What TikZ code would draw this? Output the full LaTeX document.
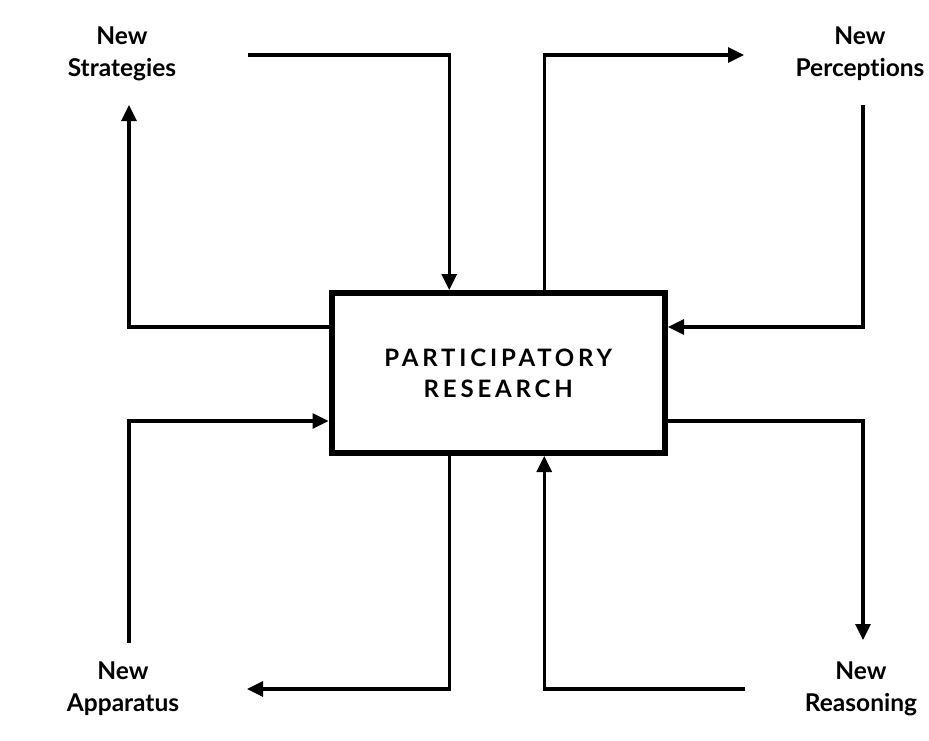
\documentclass[tikz,border=0pt]{standalone}
\usepackage{fontspec}
\setmainfont{Lato}[Ligatures=NoCommon]
\newfontfamily\boxfont[LetterSpace=16,Ligatures=NoCommon]{Lato}
\usetikzlibrary{arrows.meta}
\begin{document}
\begin{tikzpicture}[x=1pt,y=-1pt,
  conn/.style={line width=3.2pt},
  arr/.style={conn,-{Triangle[length=16pt,width=15pt]}},
  lbl/.style={font=\fontsize{24.5}{32}\selectfont\bfseries, align=center, inner sep=0pt},
  mainbox/.style={draw, fill=white, line width=6pt, minimum width=333.5pt, minimum height=160pt,
    inner sep=0pt, align=center, font=\boxfont\fontsize{24}{31}\selectfont\bfseries}]
\useasboundingbox (0,0) rectangle (929,740);
\node[mainbox] (box) at (498.25,373) {PARTICIPATORY\\RESEARCH};
\node[lbl] (str) at (122,54) {New\\Strategies};
\node[lbl] (per) at (860,54) {New\\Perceptions};
\node[lbl] (app) at (123,689) {New\\Apparatus};
\node[lbl] (rea) at (861,689) {New\\Reasoning};
\coordinate (sOut) at (248,55);
\coordinate (pIn) at (744,55);
\coordinate (pOut) at (863,105);
\coordinate (sIn) at (129,105);
\coordinate (aOut) at (129,643);
\coordinate (aIn) at (247,689);
\coordinate (rIn) at (863,640);
\coordinate (rOut) at (745,689);
\draw[arr] (sOut) -| ([xshift=-49pt]box.north);
\draw[arr] ([xshift=46pt]box.north) |- (pIn);
\draw[arr] (pOut) |- ([yshift=46pt]box.east);
\draw[arr] ([yshift=46pt]box.west) -| (sIn);
\draw[arr] (aOut) |- ([yshift=-48pt]box.west);
\draw[arr] ([xshift=-49pt]box.south) |- (aIn);
\draw[arr] ([yshift=-48pt]box.east) -| (rIn);
\draw[arr] (rOut) -| ([xshift=46pt]box.south);
\end{tikzpicture}
\end{document}
